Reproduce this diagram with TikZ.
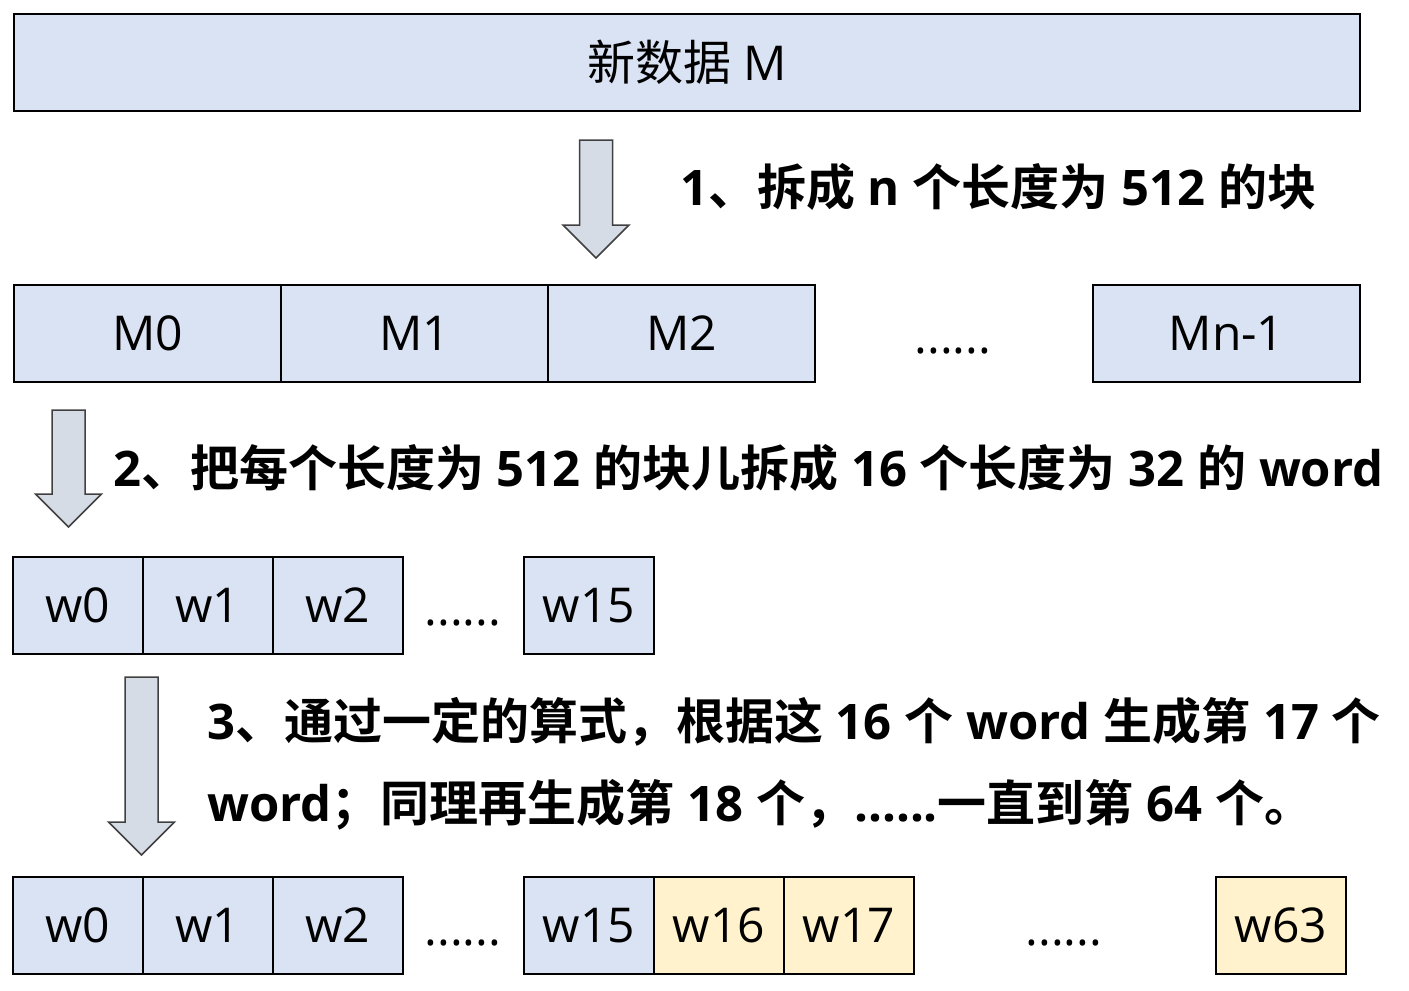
\documentclass[tikz,border=0pt]{standalone}
\usepackage{fontspec}
\setmainfont{Open Sans}
\newfontfamily\zhfont{Noto Sans CJK SC}[BoldFont={Noto Sans CJK SC Bold}]
\newcommand{\zh}[1]{{\zhfont #1}}
\usetikzlibrary{positioning}
\definecolor{cellblue}{HTML}{DAE3F3}
\definecolor{cellyellow}{HTML}{FFF2CC}
\definecolor{arrowfill}{HTML}{D6DCE5}
\definecolor{arrowline}{HTML}{404040}
% block arrow: centre x, top y, tip y
\newcommand{\blockdown}[3]{%
\filldraw[blockarrow] ({#1-16.5},#2) -- ({#1+16.5},#2) -- ({#1+16.5},{#3-33}) -- ({#1+33},{#3-33})
  -- (#1,#3) -- ({#1-33},{#3-33}) -- ({#1-16.5},{#3-33}) -- cycle;}

\begin{document}
\begin{tikzpicture}[x=1pt,y=-1pt,
  cell/.style={draw=black,line width=2pt,fill=cellblue,minimum height=97pt,inner sep=0pt,outer sep=0pt,
    font=\fontsize{48}{60}\selectfont},
  bigcell/.style={cell,minimum width=267pt},
  wcell/.style={cell,minimum width=130pt},
  newcell/.style={wcell,fill=cellyellow},
  dots/.style={anchor=base,inner sep=0pt,font=\fontsize{48}{60}\selectfont},
  steptext/.style={anchor=west,inner sep=0pt,font=\bfseries\fontsize{49}{82}\selectfont,align=left},
  blockarrow/.style={fill=arrowfill,draw=arrowline,line width=1.5pt}]
\useasboundingbox (0,0) rectangle (1409,991);

\node[cell,minimum width=1346pt] (data) at (687,62.5) {\zh{新数据} M};

\blockdown{596}{140}{258}
\node[steptext] (step1) at (680,187) {1\zh{、拆成} n \zh{个长度为} 512 \zh{的块}};

\node[bigcell] (m0) at (147.5,333.5) {M0};
\node[bigcell,right=0pt of m0] (m1) {M1};
\node[bigcell,right=0pt of m1] (m2) {M2};
\node[dots] (mdots) at (953,353) {......};
\node[bigcell] (mlast) at (1226.5,333.5) {Mn-1};

\blockdown{68.5}{410}{527}
\node[steptext] (step2) at (113,468) {2\zh{、把每个长度为} 512 \zh{的块儿拆成} 16 \zh{个长度为} 32 \zh{的} word};

\node[wcell] (a0) at (78,605.5) {w0};
\node[wcell,right=0pt of a0] (a1) {w1};
\node[wcell,right=0pt of a1] (a2) {w2};
\node[dots] (adots) at (463,625) {......};
\node[wcell] (a15) at (589,605.5) {w15};

\blockdown{141.5}{677}{855}
\node[steptext] (step3) at (207,764) {3\zh{、通过一定的算式，根据这} 16 \zh{个} word \zh{生成第} 17 \zh{个}\\
  word\zh{；同理再生成第} 18 \zh{个，}......\zh{一直到第} 64 \zh{个。}};

\node[wcell] (b0) at (78,925.5) {w0};
\node[wcell,right=0pt of b0] (b1) {w1};
\node[wcell,right=0pt of b1] (b2) {w2};
\node[dots] (bdots) at (463,945) {......};
\node[wcell] (b15) at (589,925.5) {w15};
\node[newcell,right=0pt of b15] (b16) {w16};
\node[newcell,right=0pt of b16] (b17) {w17};
\node[dots] (bdots2) at (1064,945) {......};
\node[newcell] (b63) at (1281,925.5) {w63};

\end{tikzpicture}
\end{document}
